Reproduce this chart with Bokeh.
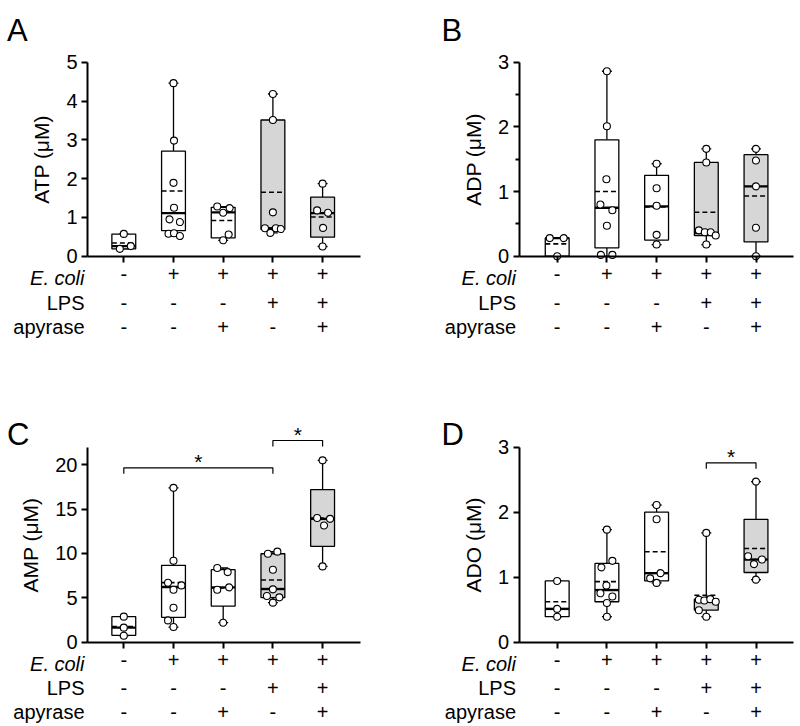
from bokeh.plotting import figure
from bokeh.models import LinearAxis, FixedTicker, Range1d, ColumnDataSource
from bokeh.layouts import row, column
from bokeh.embed import file_html
from bokeh.resources import INLINE
from bokeh.core.properties import value

FONT = "Liberation Sans"

# ---------------- data ----------------
GROUPS = [1, 2, 3, 4, 5]
FILLED = [False, False, False, True, True]
ROW_NAMES = ["E. coli", "LPS", "apyrase"]
ECOLI = ["-", "+", "+", "+", "+"]
LPS = ["-", "-", "-", "+", "+"]
APYRASE = ["-", "-", "+", "-", "+"]

# Panel A: ATP (uM)
ATP_Q1 = [0.19, 0.66, 0.47, 0.69, 0.49]
ATP_MED = [0.26, 1.11, 1.13, 0.72, 1.11]
ATP_Q3 = [0.57, 2.71, 1.26, 3.51, 1.52]
ATP_MEAN = [0.34, 1.68, 0.92, 1.65, 1.01]
ATP_LO = [0.19, 0.52, 0.41, 0.60, 0.25]
ATP_HI = [0.57, 4.46, 1.28, 4.18, 1.87]
ATP_PTS = [
    [0.575, 0.19, 0.26],
    [4.46, 2.98, 1.89, 1.25, 0.95, 0.88, 0.58, 0.59, 0.52],
    [1.28, 1.12, 1.24, 0.56, 0.41],
    [4.18, 3.51, 1.13, 0.72, 0.60, 0.72, 0.70],
    [1.87, 1.18, 1.12, 0.73, 0.25],
]
ATP_JIT = [
    [0.0, -0.08, 0.14],
    [0.0, 0.01, 0.0, 0.01, -0.08, 0.13, -0.1, 0.01, 0.13],
    [-0.12, 0.0, 0.13, 0.11, 0.0],
    [0.0, 0.0, 0.0, -0.16, -0.05, 0.06, 0.16],
    [0.0, -0.11, 0.11, 0.01, 0.0],
]

# Panel B: ADP (uM)
ADP_Q1 = [0.00, 0.13, 0.25, 0.32, 0.22]
ADP_MED = [0.28, 0.75, 0.77, 0.36, 1.08]
ADP_Q3 = [0.28, 1.80, 1.25, 1.45, 1.57]
ADP_MEAN = [0.19, 1.00, 0.76, 0.68, 0.93]
ADP_LO = [0.00, 0.00, 0.18, 0.18, 0.00]
ADP_HI = [0.28, 2.86, 1.43, 1.66, 1.66]
ADP_PTS = [
    [0.28, 0.28, 0.0],
    [2.86, 2.01, 1.19, 0.80, 0.71, 0.47, 0.02, 0.02],
    [1.43, 1.05, 0.78, 0.33, 0.18],
    [1.66, 1.45, 0.40, 0.37, 0.37, 0.32, 0.18],
    [1.66, 1.48, 1.08, 0.44, 0.0],
]
ADP_JIT = [
    [-0.15, 0.13, 0.0],
    [0.0, 0.0, -0.01, -0.13, 0.11, 0.0, -0.12, 0.11],
    [0.0, 0.0, 0.0, 0.0, 0.0],
    [0.0, 0.0, -0.15, -0.03, 0.09, 0.19, 0.0],
    [0.0, 0.0, 0.0, 0.0, 0.0],
]

# Panel C: AMP (uM)
AMP_Q1 = [0.75, 2.78, 4.06, 5.00, 10.8]
AMP_MED = [1.62, 6.20, 6.17, 5.98, 13.9]
AMP_Q3 = [2.86, 8.65, 8.16, 9.96, 17.2]
AMP_MEAN = [1.73, 6.70, 6.10, 6.99, 14.0]
AMP_LO = [0.71, 1.69, 2.18, 4.44, 8.53]
AMP_HI = [2.86, 17.4, 8.35, 10.2, 20.5]
AMP_PTS = [
    [2.86, 1.62, 0.71],
    [17.4, 9.17, 6.69, 6.39, 5.9, 3.87, 2.44, 1.69],
    [8.35, 7.89, 5.9, 6.17, 2.18],
    [9.96, 10.2, 8.16, 5.94, 5.19, 5.04, 4.44],
    [20.5, 14.0, 13.9, 13.15, 8.53],
]
AMP_JIT = [
    [0.0, 0.0, 0.0],
    [0.0, 0.0, -0.11, 0.16, 0.0, 0.0, -0.11, 0.0],
    [-0.12, 0.09, -0.12, 0.12, 0.0],
    [-0.1, 0.09, 0.0, 0.0, -0.12, 0.13, 0.0],
    [0.0, -0.11, 0.15, 0.03, 0.0],
]
AMP_SIG = [(1, 4, 19.0, 19.66), (4, 5, 22.07, 22.74)]

# Panel D: ADO (uM)
ADO_Q1 = [0.39, 0.62, 0.94, 0.49, 1.07]
ADO_MED = [0.51, 0.80, 1.06, 0.64, 1.27]
ADO_Q3 = [0.94, 1.21, 2.00, 0.66, 1.89]
ADO_MEAN = [0.62, 0.93, 1.39, 0.72, 1.44]
ADO_LO = [0.39, 0.39, 0.91, 0.39, 0.96]
ADO_HI = [0.94, 1.73, 2.11, 1.68, 2.47]
ADO_PTS = [
    [0.94, 0.51, 0.39],
    [1.73, 1.15, 1.25, 0.87, 0.75, 0.70, 0.60, 0.39],
    [2.11, 1.89, 1.06, 0.98, 0.91],
    [1.68, 0.65, 0.64, 0.66, 0.62, 0.49, 0.39],
    [2.47, 1.32, 1.27, 1.20, 0.96],
]
ADO_JIT = [
    [0.0, 0.0, 0.0],
    [0.0, -0.11, 0.11, -0.01, -0.13, 0.11, 0.0, 0.0],
    [0.0, 0.0, 0.08, -0.13, 0.0],
    [0.0, -0.15, -0.04, 0.08, 0.19, -0.15, 0.0],
    [0.0, -0.16, 0.12, -0.04, 0.0],
]
ADO_SIG = [(4, 5, 2.67, 2.76)]

# ---------------- layout (page pixels) ----------------
STEP = 49.7
LEFT = dict(x0=0, w=439, cat1=123.3, axis=87.0, end=360.0, letter=6.5)
RIGHT = dict(x0=439, w=361, cat1=556.7, axis=518.5, end=793.0, letter=441.0)
TOP = dict(y0=0, h=370, zero=255.7, letter=29.5, rows=[46.5, 71.0])
BOTTOM = dict(y0=370, h=356, zero=641.5, letter=433.5, rows=[45.8, 70.2])

BOX_W = 0.48
CAP_W = 0.2
GRAY = "#d6d6d6"


def panel(letter, ylabel, col, rw, tick_val, tick_px, ticks, minor, axis_top,
          q1, med, q3, mean, lo, hi, pts, jit, sig=()):
    sy = (rw["zero"] - tick_px) / tick_val
    x_start = 1 - (col["cat1"] - col["x0"]) / STEP
    x_end = x_start + col["w"] / STEP
    y_top = (rw["zero"] - rw["y0"]) / sy
    y_bot = -(rw["y0"] + rw["h"] - rw["zero"]) / sy

    def px_x(px):
        return x_start + (px - col["x0"]) / STEP

    def px_y(py):
        return (rw["zero"] - py) / sy

    p = figure(width=col["w"], height=rw["h"], x_range=Range1d(x_start, x_end),
               y_range=Range1d(y_bot, y_top), x_axis_type=None, y_axis_type=None,
               toolbar_location=None, output_backend="svg",
               min_border=0, min_border_left=0, min_border_right=0,
               min_border_top=0, min_border_bottom=0)
    p.outline_line_color = None
    p.background_fill_color = "white"
    p.border_fill_color = "white"

    axis_x = px_x(col["axis"])
    # x axis at y = 0; its tick labels are the E. coli row of the condition table
    xaxis = LinearAxis(ticker=FixedTicker(ticks=GROUPS, minor_ticks=[]),
                       fixed_location=0, bounds=(axis_x, px_x(col["end"])),
                       major_label_overrides={g: s for g, s in zip(GROUPS, ECOLI)})
    xaxis.major_label_text_font = FONT
    xaxis.major_label_text_font_size = "20px"
    xaxis.major_label_text_color = "black"
    xaxis.major_label_standoff = 5
    xaxis.axis_line_width = 2
    xaxis.major_tick_line_width = 2
    xaxis.major_tick_in = 0
    xaxis.major_tick_out = 6
    p.add_layout(xaxis, "below")

    yaxis = LinearAxis(ticker=FixedTicker(ticks=ticks, minor_ticks=minor),
                       fixed_location=axis_x, bounds=(0, axis_top),
                       axis_label=ylabel)
    yaxis.axis_line_width = 2
    yaxis.major_tick_line_width = 2
    yaxis.major_tick_in = 0
    yaxis.major_tick_out = 6
    yaxis.minor_tick_line_width = 2
    yaxis.minor_tick_in = 0
    yaxis.minor_tick_out = 4
    yaxis.major_label_text_font = FONT
    yaxis.major_label_text_font_size = "20px"
    yaxis.major_label_text_color = "black"
    yaxis.major_label_standoff = 4
    yaxis.axis_label_text_font = FONT
    yaxis.axis_label_text_font_size = "21px"
    yaxis.axis_label_text_font_style = "normal"
    yaxis.axis_label_text_color = "black"
    yaxis.axis_label_standoff = 10
    p.add_layout(yaxis, "left")

    fills = [GRAY if f else "white" for f in FILLED]
    src = ColumnDataSource(dict(x=GROUPS, q1=q1, q3=q3, med=med, mean=mean,
                                lo=lo, hi=hi, fill=fills,
                                l=[g - BOX_W / 2 for g in GROUPS],
                                r=[g + BOX_W / 2 for g in GROUPS],
                                cl=[g - CAP_W / 2 for g in GROUPS],
                                cr=[g + CAP_W / 2 for g in GROUPS]))
    # whiskers
    p.segment(x0="x", y0="q3", x1="x", y1="hi", source=src, line_color="black", line_width=1.3)
    p.segment(x0="x", y0="lo", x1="x", y1="q1", source=src, line_color="black", line_width=1.3)
    p.segment(x0="cl", y0="hi", x1="cr", y1="hi", source=src, line_color="black", line_width=1.3)
    p.segment(x0="cl", y0="lo", x1="cr", y1="lo", source=src, line_color="black", line_width=1.3)
    # boxes
    p.quad(left="l", right="r", bottom="q1", top="q3", source=src,
           fill_color="fill", line_color="black", line_width=1.3)
    # median & mean
    p.segment(x0="l", y0="med", x1="r", y1="med", source=src, line_color="black", line_width=2.4)
    p.segment(x0="l", y0="mean", x1="r", y1="mean", source=src, line_color="black",
              line_width=1.6, line_dash="5 3")
    # points
    xs, ys = [], []
    for g, vals, offs in zip(GROUPS, pts, jit):
        for v, o in zip(vals, offs):
            xs.append(g + o)
            ys.append(v)
    p.scatter(xs, ys, size=7, fill_color="white", line_color="black", line_width=1.1)

    # significance brackets
    for a, b, leg, top in sig:
        p.line([a, a, b, b], [leg, top, top, leg], line_color="black", line_width=1.2)
        p.text([(a + b) / 2], [top], text=["*"], text_align="center",
               text_baseline="alphabetic", y_offset=-6,
               text_font=value(FONT), text_font_size="21px", text_color="black")

    # condition table (rows 2 and 3; row 1 is the x-axis labels)
    row_y = [px_y(rw["zero"] + off) for off in [22.0] + rw["rows"]]
    for k, labels in enumerate([LPS, APYRASE]):
        p.text(GROUPS, [row_y[k + 1]] * 5, text=labels, text_align="center",
               text_baseline="middle", text_font=value(FONT), text_font_size="20px",
               text_color="black")
    for k in range(3):
        p.text([px_x(col["axis"] - 3)], [row_y[k]], text=[ROW_NAMES[k]], text_align="right",
               text_baseline="middle", text_font=value(FONT), text_font_size="20px",
               text_font_style="italic" if k == 0 else "normal", text_color="black")

    # panel letter
    p.text([px_x(col["letter"])], [px_y(rw["letter"])], text=[letter],
           text_align="left", text_baseline="alphabetic", text_font=value(FONT),
           text_font_size="31px", text_color="black")
    return p


pa = panel("A", "ATP (μM)", LEFT, TOP, 5, 61.7, [0, 1, 2, 3, 4, 5], [], 5,
           ATP_Q1, ATP_MED, ATP_Q3, ATP_MEAN, ATP_LO, ATP_HI, ATP_PTS, ATP_JIT)
pb = panel("B", "ADP (μM)", RIGHT, TOP, 3, 61.7, [0, 1, 2, 3], [0.5, 1.5, 2.5], 3,
           ADP_Q1, ADP_MED, ADP_Q3, ADP_MEAN, ADP_LO, ADP_HI, ADP_PTS, ADP_JIT)
pc = panel("C", "AMP (μM)", LEFT, BOTTOM, 20, 464.3, [0, 5, 10, 15, 20], [], 22,
           AMP_Q1, AMP_MED, AMP_Q3, AMP_MEAN, AMP_LO, AMP_HI, AMP_PTS, AMP_JIT, AMP_SIG)
pd = panel("D", "ADO (μM)", RIGHT, BOTTOM, 3, 446.7, [0, 1, 2, 3], [], 3,
           ADO_Q1, ADO_MED, ADO_Q3, ADO_MEAN, ADO_LO, ADO_HI, ADO_PTS, ADO_JIT, ADO_SIG)

layout = column(row(pa, pb), row(pc, pd))
open("out.html", "w").write(file_html(layout, INLINE))
